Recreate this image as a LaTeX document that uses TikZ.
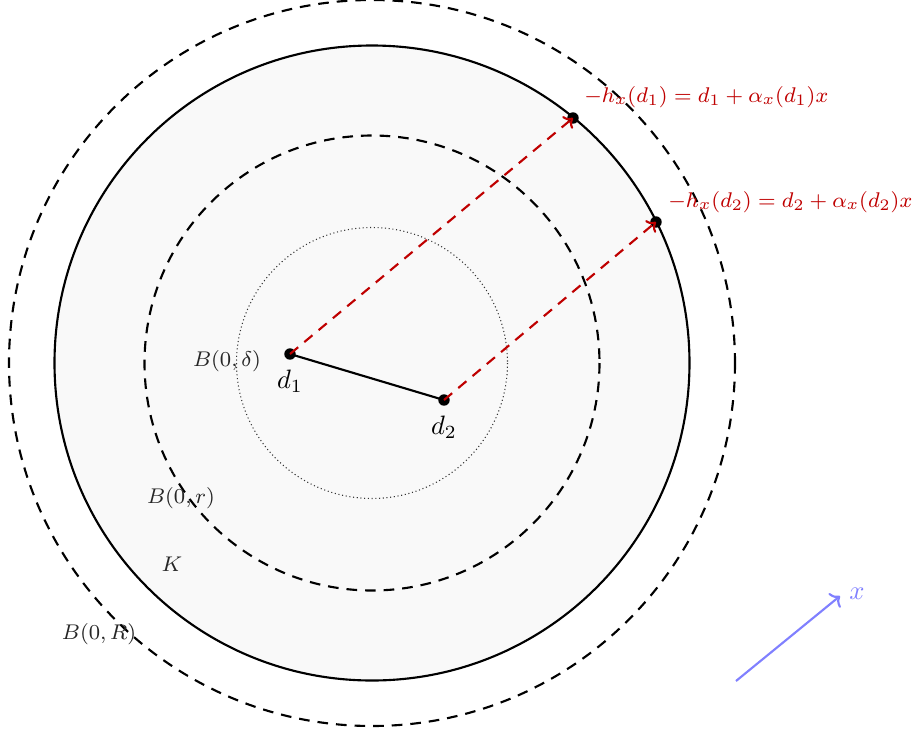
\documentclass[tikz,border=0pt]{standalone}
\usetikzlibrary{arrows.meta}
\begin{document}
\begin{tikzpicture}[x=0.376pt,y=-0.376pt,
  dashcirc/.style={draw=black,thick,dash pattern=on 4pt off 3pt},
  reddash/.style={draw=red!75!black,thick,dash pattern=on 4pt off 3pt,-{To[length=3pt,width=6pt]}},
  ptdot/.style={circle,fill=black,inner sep=0pt,minimum size=4.3pt},
  lab/.style={font=\footnotesize,text=black!85},
  redlab/.style={font=\footnotesize,text=red!75!black,anchor=west}]
\useasboundingbox (0,0) rectangle (912,734);
\coordinate (c) at (372,363);
\draw[thick,fill=black!2.5] (c) circle[radius=317.5];
\draw[dashcirc] (c) circle[radius=363];
\draw[dashcirc] (c) circle[radius=227.5];
\draw[densely dotted,black!80] (c) circle[radius=135.5];
\node[ptdot] (d1) at (290,354) {};
\node[ptdot] (d2) at (444,400) {};
\node[ptdot] (p1) at (573,118) {};
\node[ptdot] (p2) at (656,222) {};
\draw[thick] (d1.center) -- (d2.center);
\draw[reddash] (d1.center) -- (p1.center);
\draw[reddash] (d2.center) -- (p2.center);
\node (l1) at (290,381) {$d_1$};
\node (l2) at (444,427) {$d_2$};
\node[lab] (bd) at (227,361) {$B(0,\delta)$};
\node[lab] (br) at (181,498) {$B(0,r)$};
\node[lab] (kk) at (172,564) {$K$};
\node[lab] (bR) at (99,634) {$B(0,R)$};
\node[redlab] (t1) at (575,97) {$-h_x(d_1)=d_1+\alpha_x(d_1)x$};
\node[redlab] (t2) at (659,202) {$-h_x(d_2)=d_2+\alpha_x(d_2)x$};
\coordinate (a0) at (736,681);
\coordinate (a1) at (840,596);
\draw[thick,blue!50,-{To[length=3pt,width=7pt]}] (a0) -- (a1);
\node[text=blue!50] (xl) at (857,594) {$x$};
\end{tikzpicture}
\end{document}
